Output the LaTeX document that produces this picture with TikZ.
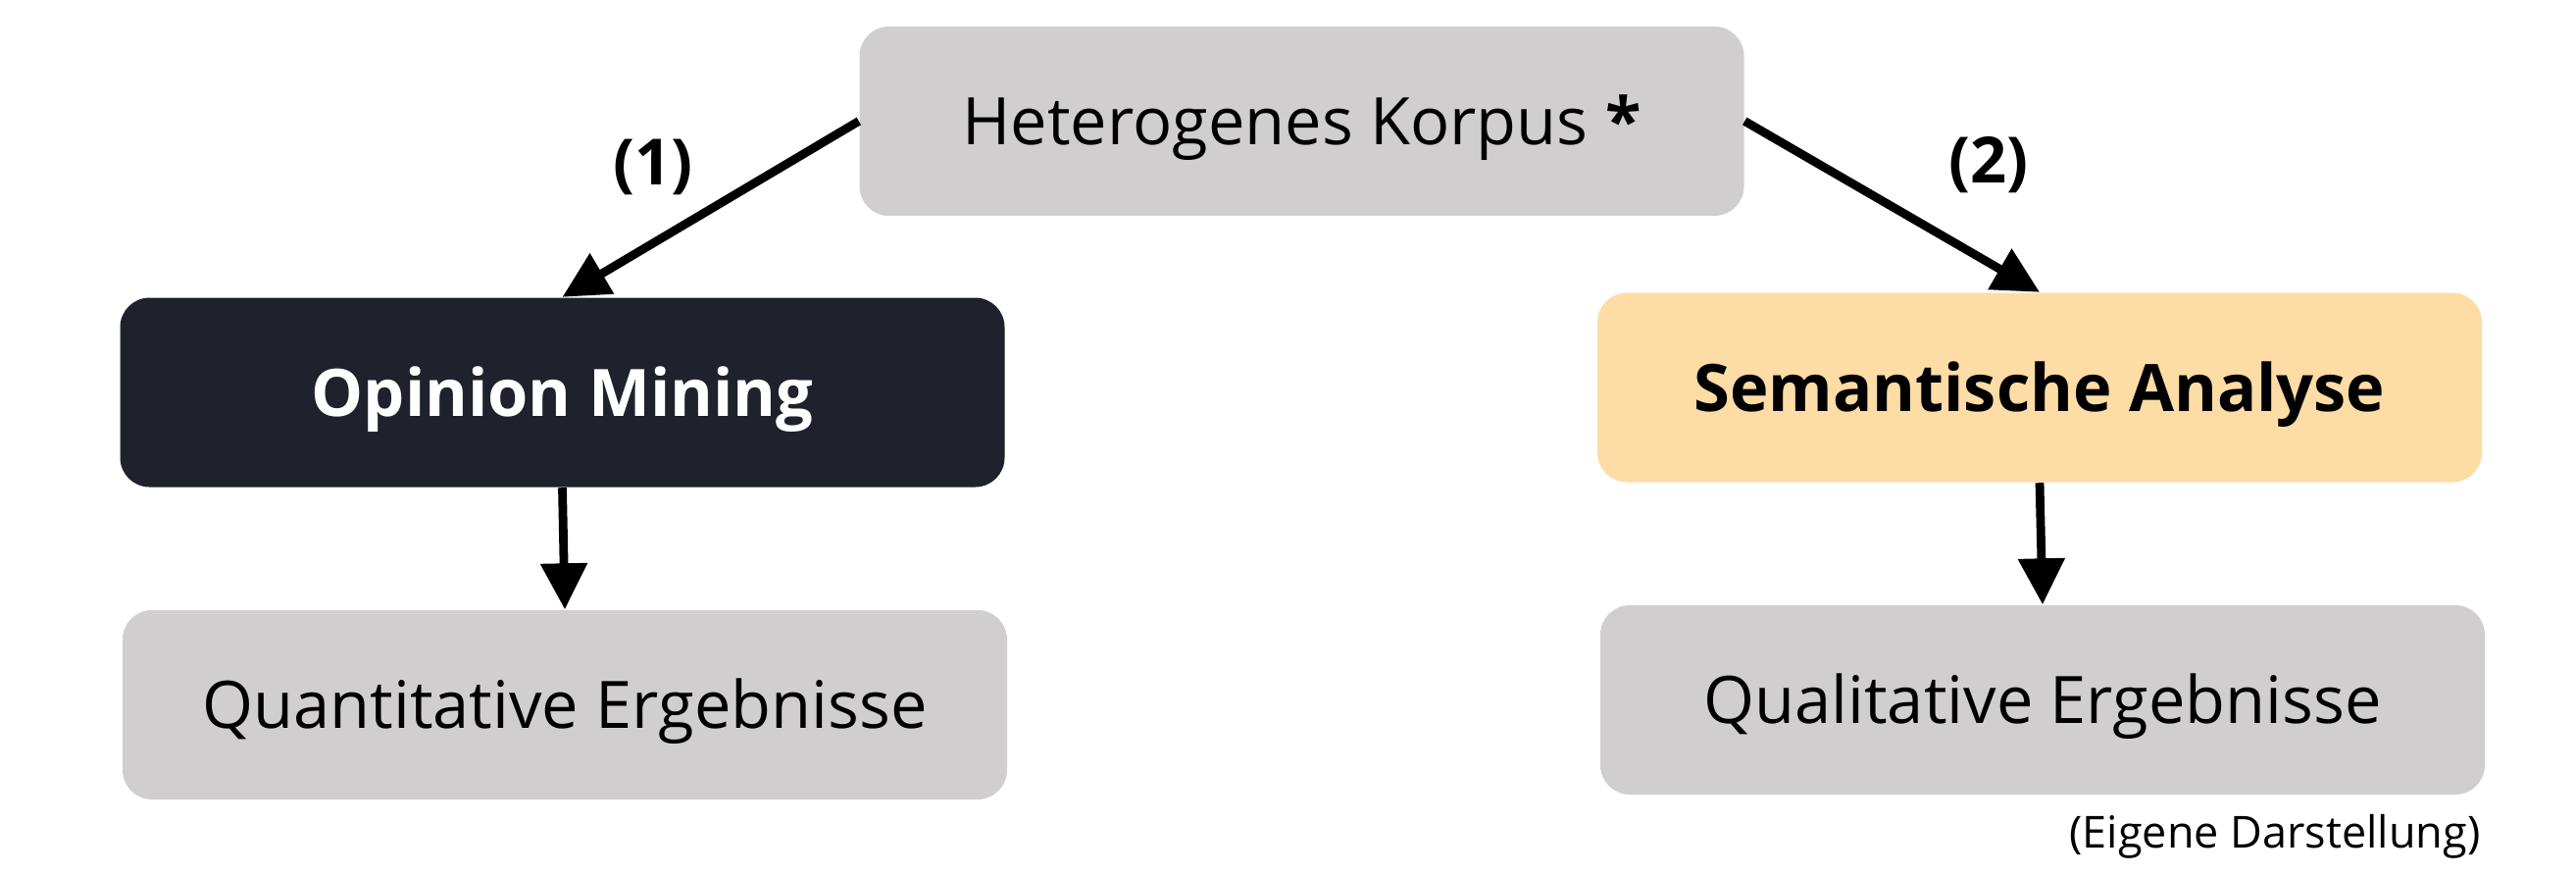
\documentclass[tikz,border=0pt]{standalone}
\usepackage{fontspec}
\setmainfont{Open Sans}
\usetikzlibrary{arrows.meta}
\definecolor{boxgray}{RGB}{208,206,207}
\definecolor{nightblue}{RGB}{31,33,44}
\definecolor{sand}{RGB}{253,220,165}

\begin{document}
\begin{tikzpicture}[
    box/.style={rectangle,rounded corners=0.3cm,minimum width=9.02cm,minimum height=1.93cm,
      text height=0.48cm,text depth=0pt,inner sep=0pt,font=\fontsize{19}{22}\selectfont},
    pfeil/.style={-{Triangle[length=0.47cm,width=0.46cm]},line width=2.5pt}]
  \useasboundingbox (0,0) rectangle (26.27,-8.91);
  % top
  \node[box,fill=boxgray] (korpus) at (13.275,-1.235) {Heterogenes Korpus \textbf{*}};
  % methods
  \node[box,fill=nightblue,text=white,font=\fontsize{19}{22}\selectfont\bfseries] (opinion) at (5.735,-4.00) {Opinion Mining};
  \node[box,fill=sand,font=\fontsize{19}{22}\selectfont\bfseries] (semantik) at (20.80,-3.95) {Semantische Analyse};
  % results
  \node[box,fill=boxgray] (quant) at (5.76,-7.185) {Quantitative Ergebnisse};
  \node[box,fill=boxgray] (qual) at (20.83,-7.135) {Qualitative Ergebnisse};
  \draw[pfeil] (korpus.west) -- (opinion.north);
  \draw[pfeil] (korpus.east) -- (semantik.north);
  \draw[pfeil] (opinion.south) -- (quant.north);
  \draw[pfeil] (semantik.south) -- (qual.north);
  \node[font=\fontsize{18.5}{22}\selectfont\bfseries] (eins) at (6.66,-1.70) {(1)};
  \node[font=\fontsize{18.5}{22}\selectfont\bfseries] (zwei) at (20.28,-1.68) {(2)};
  \node[anchor=east,inner sep=0pt,font=\fontsize{12.8}{15}\selectfont] (quelle) at (25.30,-8.53) {(Eigene Darstellung)};
\end{tikzpicture}
\end{document}
